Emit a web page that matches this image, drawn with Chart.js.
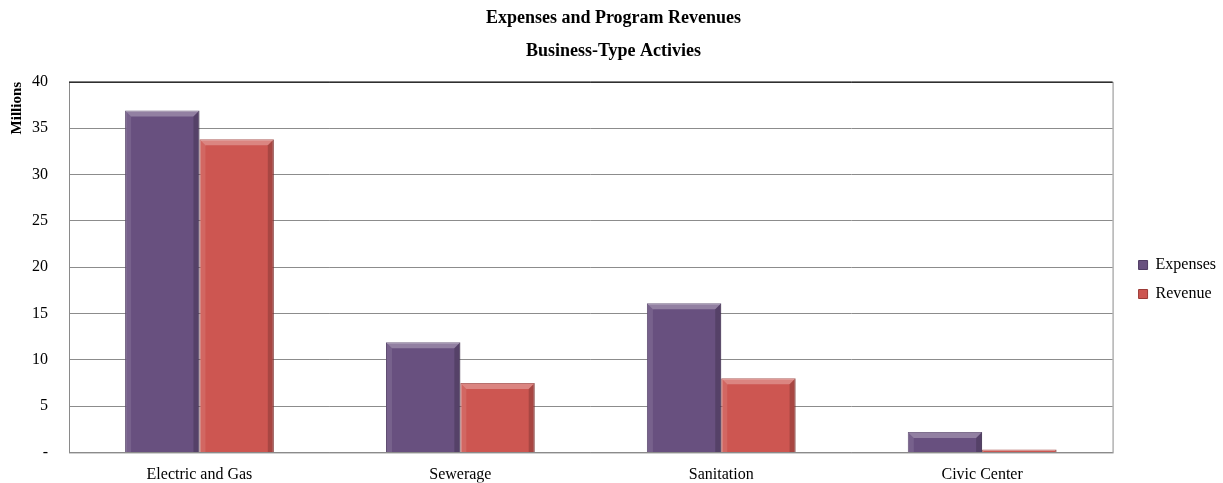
<!DOCTYPE html>
<html>
<head>
<meta charset="utf-8">
<script src="https://cdn.jsdelivr.net/npm/chart.js@4/dist/chart.umd.min.js"></script>
<style>
  html, body { margin: 0; padding: 0; background: #fff; }
  #wrap { width: 1223px; height: 483px; }
</style>
</head>
<body>
<div id="wrap"><canvas id="myChart" width="1223" height="483"></canvas></div>
<script>
const categories = ['Electric and Gas', 'Sewerage', 'Sanitation', 'Civic Center'];
const expenses = [36.9, 11.9, 16.1, 2.2];
const revenue = [33.8, 7.5, 8.0, 0.3];
const yTicks = [0, 5, 10, 15, 20, 25, 30, 35, 40];

const FONT = '"Liberation Serif", "Times New Roman", serif';

// frame round the plot area
const frame = {
    id: 'frame',
    beforeDatasetsDraw(chart) {
        const { ctx, chartArea: a } = chart;
        ctx.save();
        ctx.strokeStyle = '#8a8a8a';
        ctx.lineWidth = 1;
        ctx.strokeRect(a.left + 0.5, a.top + 0.5, a.right - a.left, a.bottom - a.top);
        ctx.strokeStyle = '#222';
        ctx.beginPath();
        ctx.moveTo(a.left, a.top + 0.5);
        ctx.lineTo(a.right, a.top + 0.5);
        ctx.stroke();
        ctx.restore();
    }
};

// soft bevel on each bar
const bevel = {
    id: 'bevel',
    afterDatasetsDraw(chart) {
        const ctx = chart.ctx;
        chart.data.datasets.forEach((ds, i) => {
            chart.getDatasetMeta(i).data.forEach((bar) => {
                const { x, y, base, width } = bar.getProps(['x', 'y', 'base', 'width'], true);
                const l = x - width / 2, r = x + width / 2;
                const h = base - y;
                const e = Math.min(6, h / 2);
                if (h < 1) return;
                ctx.save();
                ctx.fillStyle = 'rgba(255,255,255,0.28)';
                ctx.beginPath();
                ctx.moveTo(l, y); ctx.lineTo(r, y); ctx.lineTo(r - e, y + e); ctx.lineTo(l + e, y + e);
                ctx.closePath(); ctx.fill();
                ctx.fillStyle = 'rgba(255,255,255,0.10)';
                ctx.beginPath();
                ctx.moveTo(l, y); ctx.lineTo(l + e, y + e); ctx.lineTo(l + e, base); ctx.lineTo(l, base);
                ctx.closePath(); ctx.fill();
                ctx.fillStyle = 'rgba(0,0,0,0.18)';
                ctx.beginPath();
                ctx.moveTo(r, y); ctx.lineTo(r - e, y + e); ctx.lineTo(r - e, base); ctx.lineTo(r, base);
                ctx.closePath(); ctx.fill();
                ctx.restore();
            });
        });
    }
};

// push the legend a bit further from the plot
const legendGap = {
    id: 'legendGap',
    afterInit(chart) {
        const lg = chart.legend;
        const fit = lg.fit.bind(lg);
        lg.fit = function () { fit(); this.width += 10; };
        const draw = lg.draw.bind(lg);
        lg.draw = function () {
            chart.ctx.save();
            chart.ctx.translate(13, 38);
            draw();
            chart.ctx.restore();
        };
    }
};

const ctx = document.getElementById('myChart').getContext('2d');
const chart = new Chart(ctx, {
    type: 'bar',
    data: {
        labels: categories,
        datasets: [
            {
                label: 'Expenses',
                data: expenses,
                backgroundColor: '#68507F',
                borderColor: '#4e3a63',
                borderWidth: 1
            },
            {
                label: 'Revenue',
                data: revenue,
                backgroundColor: '#CD5651',
                borderColor: '#9c3a36',
                borderWidth: 1
            }
        ]
    },
    options: {
        responsive: false,
        animation: false,
        layout: { padding: { left: 4, right: 0, top: 0, bottom: 0 } },
        datasets: {
            bar: { barPercentage: 1.0, categoryPercentage: 0.57 }
        },
        plugins: {
            title: {
                display: true,
                text: ['Expenses and Program Revenues', 'Business-Type Activies'],
                color: '#000',
                font: { family: FONT, size: 18, weight: 'bold', lineHeight: 1.83 },
                padding: { top: 2, bottom: 14 }
            },
            legend: {
                position: 'right',
                labels: {
                    color: '#000',
                    font: { family: FONT, size: 16 },
                    boxWidth: 9,
                    boxHeight: 9,
                    padding: 13
                }
            },
            tooltip: { enabled: false }
        },
        scales: {
            x: {
                grid: { display: false, drawTicks: false },
                border: { display: false },
                afterFit: (s) => { s.height -= 15; },
                ticks: {
                    color: '#000',
                    font: { family: FONT, size: 16 },
                    padding: 13
                }
            },
            y: {
                min: 0,
                max: 40,
                afterBuildTicks: (axis) => {
                    axis.ticks = yTicks.map((v) => ({ value: v }));
                },
                afterFit: (s) => { s.width -= 19; },
                grid: { color: '#8c8c8c', drawTicks: false },
                border: { display: false },
                ticks: {
                    color: '#000',
                    font: { family: FONT, size: 16 },
                    padding: 21,
                    callback: (v) => (v === 0 ? '-' : v)
                },
                title: {
                    display: true,
                    text: 'Millions',
                    align: 'end',
                    color: '#000',
                    font: { family: FONT, size: 15, weight: 'bold' },
                    padding: 4
                }
            }
        }
    },
    plugins: [frame, bevel, legendGap]
});
</script>
</body>
</html>
